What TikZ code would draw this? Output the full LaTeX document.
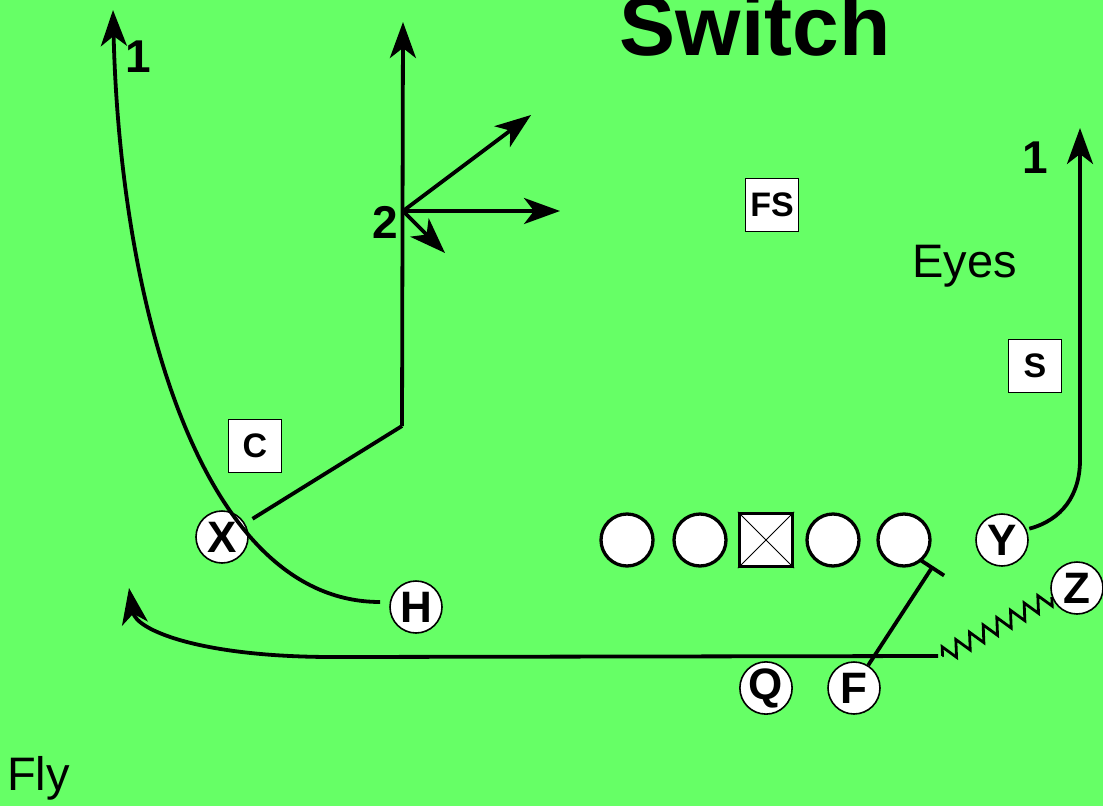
\documentclass[tikz,border=0pt]{standalone}
\usepackage{fontspec}
\setmainfont{Liberation Sans}
\usetikzlibrary{arrows.meta,calc,positioning,decorations.pathmorphing}
\definecolor{field}{RGB}{102,255,102}

\begin{document}
\begin{tikzpicture}[x=1pt, y=-1pt,
    player/.style={circle, draw=black, line width=1.6pt, fill=white, minimum size=52pt, inner sep=0pt, font=\fontsize{44}{44}\selectfont\bfseries},
    lineman/.style={circle, draw=black, line width=3.3pt, fill=white, minimum size=52pt, inner sep=0pt},
    defender/.style={rectangle, draw=black, line width=1.3pt, fill=white, minimum size=53pt, inner sep=0pt, font=\fontsize{34}{34}\selectfont\bfseries},
    route/.style={black, line width=3.8pt},
    tip/.style={-{Stealth[length=36pt,width=26pt,inset=10pt]}},
    num/.style={inner sep=0pt, font=\fontsize{46}{46}\selectfont\bfseries},
    note/.style={inner sep=0pt, font=\fontsize{47}{47}\selectfont}]
    \useasboundingbox (0,0) rectangle (1103,806);
    \clip (0,0) rectangle (1103,806);
    \fill[field] (0,0) rectangle (1103,806);

    \node[inner sep=0pt, anchor=base, font=\fontsize{84}{84}\selectfont\bfseries] (title) at (755,55) {Switch};
    \node[note, anchor=base west] (eyes) at (912,277) {Eyes};
    \node[note, anchor=base west] (fly) at (7,790) {Fly};
    \node[num] (one left) at (138,57) {1};
    \node[num] (one right) at (1035,158) {1};
    \node[num] (two) at (385,222) {2};

    \node[defender] (C) at (255,446) {C};
    \node[defender] (FS) at (772,205) {FS};
    \node[defender] (S) at (1035,366) {S};

    \node[lineman] (LT) at (627,540) {};
    \node[lineman] (LG) at (700,540) {};
    \node[rectangle, draw=black, line width=3.3pt, fill=white, minimum size=53pt, inner sep=0pt] (ctr) at (766,540) {};
    \draw[line width=0.8pt] (ctr.north west) -- (ctr.south east);
    \draw[line width=0.8pt] (ctr.north east) -- (ctr.south west);
    \node[lineman] (RG) at (833,540) {};
    \node[lineman] (RT) at (904,540) {};

    \coordinate (hend) at (113,10);
    \coordinate (xbreak) at (402,426);
    \coordinate (xopt) at (403,211);
    \coordinate (xend) at (403,22);
    \coordinate (opt1) at (531,115);
    \coordinate (opt2) at (560,211);
    \coordinate (opt3) at (445,253);
    \coordinate (yturn) at (1080,460);
    \coordinate (yend) at (1080,128);
    \coordinate (zmot) at (942,656);
    \coordinate (qturn) at (333,657);
    \coordinate (flyend) at (129,588);
    \coordinate (fblock) at (933,566);

    \node[player] (X) at (222,537) {X};
    \node[player] (H) at (416,607) {H};
    \node[player] (Y) at (1002,540) {Y};
    \node[player] (Z) at (1077,588) {Z};
    \node[player] (Q) at (766,688) {Q};
    \node[player] (F) at (854,688) {F};

    \draw[route, tip] ([xshift=-9pt, yshift=5pt]H.west) .. controls +(-181,0) and (120,300) .. (hend);
    \draw[route] ([shift={(10,-1)}]X.40) -- (xbreak);
    \draw[route, tip] (xbreak) -- (xend);
    \draw[route, tip] (xopt) -- (opt1);
    \draw[route, tip] (xopt) -- (opt2);
    \draw[route, tip] (xopt) -- (opt3);
    \draw[route, tip] ([xshift=3pt]Y.25) .. controls (1062,520) and (1080,495) .. (yturn) -- (yend);
    \draw[black, line width=2.8pt, decorate, decoration={zigzag, segment length=15.5pt, amplitude=8pt}] (Z.200) -- (zmot);
    \draw[route, tip] ([xshift=-4pt]zmot) -- (qturn) .. controls (200,657) and (136,630) .. (flyend);
    \draw[route, -{Bar[width=29pt]}] (F.58) -- (fblock);
\end{tikzpicture}
\end{document}
